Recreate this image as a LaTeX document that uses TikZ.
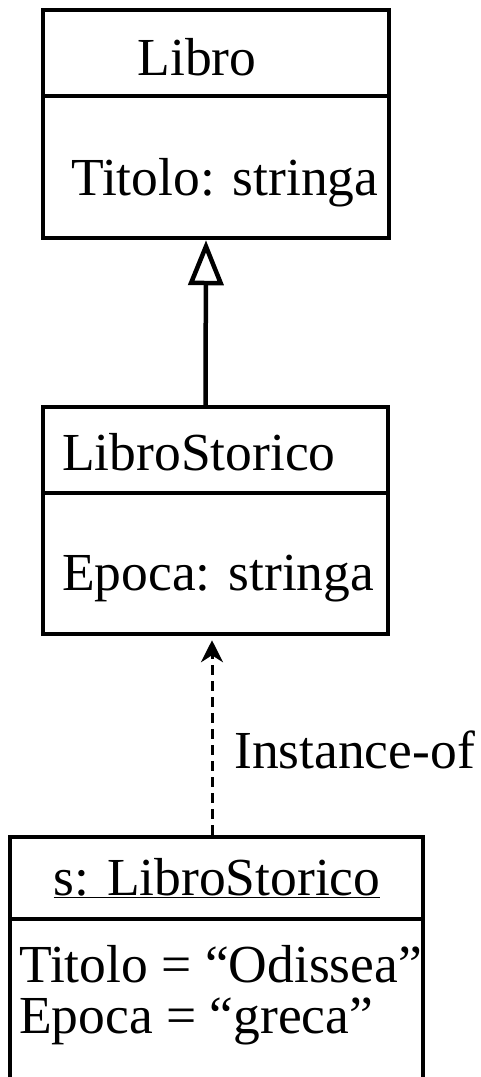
\documentclass[tikz,border=0pt]{standalone}
\usepackage{fontspec}
\setmainfont{Liberation Serif}
\usetikzlibrary{positioning,arrows.meta}

\begin{document}
\begin{tikzpicture}[x=1pt,y=-1pt,
      font=\fontsize{53.5}{60}\selectfont,
      box/.style={draw,line width=4.5pt,rectangle,inner sep=0pt},
      lbl/.style={inner sep=0pt,anchor=base west},
      gen/.style={line width=4.5pt,-{Triangle[open,width=35pt,length=45pt]}},
      inst/.style={line width=3pt,dash pattern=on 10pt off 6pt,-{Stealth[length=22pt,width=22pt,inset=7pt]},shorten >=4pt}]
    \useasboundingbox (0,0) rectangle (481,1077);
    % class Libro
    \node[box,minimum width=346pt,minimum height=86pt] (libroHead) at (216,53) {};
    \node[box,minimum width=346pt,minimum height=142pt] (libroBody) at (216,167) {};
    \node[lbl,anchor=base] (libroName) at (197,75) {Libro};
    \node[lbl] (libroAttr) at (71,195) {Titolo: stringa};
    % class LibroStorico
    \node[box,minimum width=345pt,minimum height=86pt] (storHead) at (215.5,450) {};
    \node[box,minimum width=345pt,minimum height=141pt] (storBody) at (215.5,563.5) {};
    \node[lbl] (storName) at (62,470) {LibroStorico};
    \node[lbl] (storAttr) at (62,590) {Epoca: stringa};
    % object s
    \node[box,minimum width=413pt,minimum height=82pt] (objHead) at (216.5,878) {};
    \node[box,minimum width=413pt,minimum height=200pt] (objBody) at (216.5,1019) {};
    \node[lbl,anchor=base] (objName) at (217,895) {\underline{s: LibroStorico}};
    \node[lbl] (objTitolo) at (19,982) {Titolo = “Odissea”};
    \node[lbl] (objEpoca) at (19,1033) {Epoca = “greca”};
    % connectors
    \draw[gen] ([xshift=-10pt]storHead.north) -- ([xshift=-10pt]libroBody.south);
    \draw[inst] ([xshift=-4.5pt]objHead.north) -- ([xshift=-4.5pt]objHead.north |- storBody.south);
    \node[lbl] (instLabel) at (234,768) {Instance-of};
\end{tikzpicture}
\end{document}
